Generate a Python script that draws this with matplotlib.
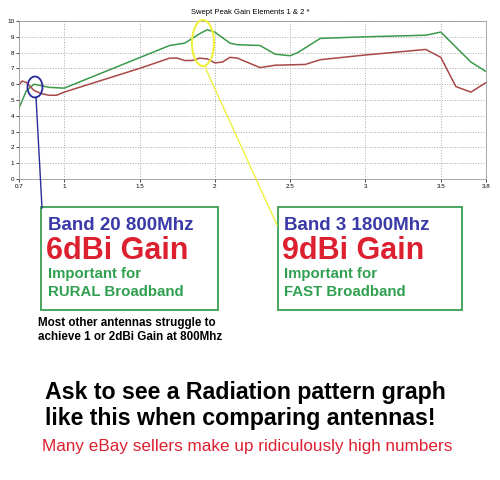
import matplotlib
matplotlib.use("Agg")
import matplotlib.pyplot as plt
from matplotlib.patches import Ellipse, Rectangle
from matplotlib.lines import Line2D

green_x = [0.7, 0.75, 0.8, 0.85, 0.9, 1.0, 1.7, 1.8, 1.9, 1.95, 2.0, 2.1, 2.15, 2.3, 2.4, 2.5, 2.55, 2.7, 3.0, 3.4, 3.5, 3.7, 3.8]
green_y = [4.5, 5.6, 6.0, 5.9, 5.8, 5.75, 8.45, 8.6, 9.2, 9.45, 9.3, 8.6, 8.5, 8.45, 7.9, 7.8, 8.0, 8.9, 9.0, 9.1, 9.3, 7.4, 6.8]
red_x = [0.7, 0.72, 0.75, 0.8, 0.85, 0.9, 0.95, 1.0, 1.5, 1.7, 1.75, 1.8, 1.85, 1.9, 1.95, 2.0, 2.05, 2.1, 2.15, 2.3, 2.4, 2.6, 2.7, 3.0, 3.4, 3.5, 3.6, 3.7, 3.8]
red_y = [5.95, 6.2, 6.1, 5.6, 5.4, 5.3, 5.3, 5.5, 7.0, 7.65, 7.65, 7.5, 7.5, 7.65, 7.6, 7.35, 7.4, 7.7, 7.65, 7.05, 7.2, 7.25, 7.55, 7.85, 8.2, 7.7, 5.85, 5.5, 6.1]
x_ticks = [0.7, 1, 1.5, 2, 2.5, 3, 3.5, 3.8]
x_labels = ["0.7", "1", "1.5", "2", "2.5", "3", "3.5", "3.8"]
y_ticks = list(range(0, 11))

W, H = 500, 480
fig = plt.figure(figsize=(W/100, H/100), dpi=100)
plt.rcParams['font.family'] = ['Liberation Sans', 'DejaVu Sans']

def fx(px): return px / W
def fy(py): return 1 - py / H

ax = fig.add_axes([fx(19), fy(179), fx(486) - fx(19), fy(21) - fy(179)])
ax.plot(green_x, green_y, color='#3a9a4a', lw=1.1)
ax.plot(red_x, red_y, color='#a84848', lw=1.1)
ax.set_xlim(0.7, 3.8)
ax.set_ylim(0, 10)
ax.set_xticks(x_ticks)
ax.set_xticklabels(x_labels, fontsize=4.5)
ax.set_yticks(y_ticks)
ax.set_yticklabels([str(v) for v in y_ticks], fontsize=4.5)
ax.tick_params(length=2, pad=1.5, width=0.5)
ax.grid(True, color='#aaaaaa', ls=':', lw=0.7)
for s in ax.spines.values():
    s.set_color('#999999'); s.set_linewidth(0.6)
fig.text(0.5, fy(12), "Swept Peak Gain Elements 1 & 2 *", ha='center', va='center', fontsize=5.5)

tf = fig.transFigure
fig.patches.append(Ellipse((fx(35), fy(87)), 15/W, 21/H, transform=tf, fill=False, ec='#2a2a9a', lw=1.3))
fig.lines.append(Line2D([fx(36), fx(42)], [fy(97), fy(208)], transform=tf, color='#2a2a9a', lw=1))
fig.patches.append(Ellipse((fx(203), fy(43)), 22/W, 46/H, transform=tf, fill=False, ec='#f0f040', lw=1.5))
fig.lines.append(Line2D([fx(205), fx(277)], [fy(67), fy(225)], transform=tf, color='#f0f040', lw=1))

for (x0, x1) in [(41, 218), (278, 462)]:
    fig.patches.append(Rectangle((fx(x0), fy(310)), fx(x1) - fx(x0), fy(207) - fy(310),
                                 transform=tf, fill=False, ec='#3aa050', lw=1.3))

def box(x, band, gain, l3, l4):
    fig.text(fx(x), fy(225), band, color='#3a3aa8', fontsize=13.5, fontweight='bold', va='center')
    fig.text(fx(x - 2), fy(251), gain, color='#dd2030', fontsize=22, fontweight='bold', va='center')
    fig.text(fx(x), fy(274), l3, color='#30a050', fontsize=10.8, fontweight='bold', va='center')
    fig.text(fx(x), fy(292), l4, color='#30a050', fontsize=10.8, fontweight='bold', va='center')

box(48, "Band 20 800Mhz", "6dBi Gain", "Important for", "RURAL Broadband")
box(284, "Band 3 1800Mhz", "9dBi Gain", "Important for", "FAST Broadband")

fig.text(fx(38), fy(323), "Most other antennas struggle to", fontsize=8.4, fontweight='bold', va='center')
fig.text(fx(38), fy(337), "achieve 1 or 2dBi Gain at 800Mhz", fontsize=8.4, fontweight='bold', va='center')
fig.text(fx(45), fy(392), "Ask to see a Radiation pattern graph", fontsize=16.7, fontweight='bold', va='center')
fig.text(fx(45), fy(419), "like this when comparing antennas!", fontsize=16.7, fontweight='bold', va='center')
fig.text(fx(42), fy(446), "Many eBay sellers make up ridiculously high numbers", fontsize=12.3, color='#dd2030', va='center')

fig.savefig("out.png", dpi=100)
